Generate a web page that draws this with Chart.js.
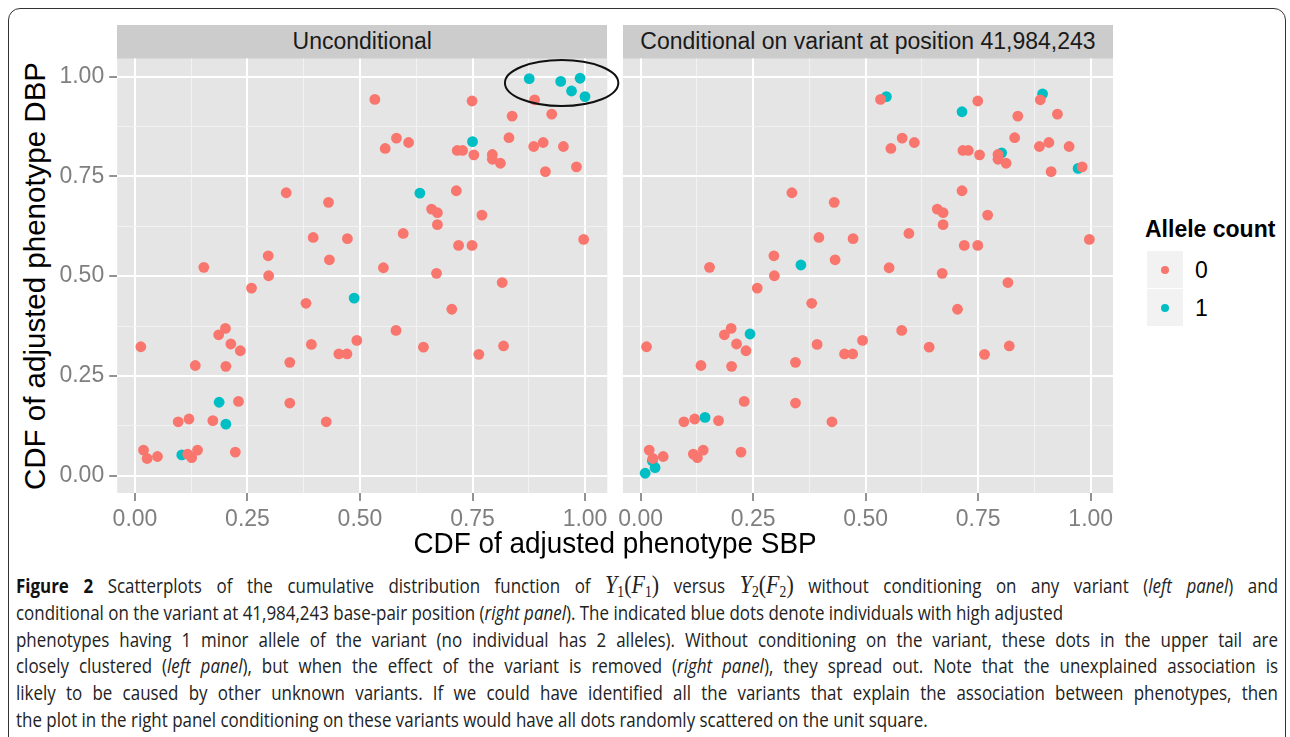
<!DOCTYPE html>
<html>
<head>
<meta charset="utf-8">
<script src="https://cdn.jsdelivr.net/npm/chart.js@4.4.1/dist/chart.umd.min.js"></script>
<style>
html,body{margin:0;padding:0;background:#fff;width:1290px;height:737px;overflow:hidden;font-family:'Liberation Sans',Arial,sans-serif;}
#frame{position:absolute;left:8px;top:8px;width:1278px;height:780px;border:1.5px solid #333;border-radius:12px 12px 0 0;box-sizing:border-box;}
canvas{position:absolute;}
.strip{position:absolute;top:25px;height:33.5px;background:#CCCCCC;color:#1A1A1A;font-size:23px;display:flex;align-items:center;justify-content:center;white-space:nowrap;}
.ctr{position:absolute;white-space:nowrap;line-height:1.1;}
#ytitle{left:35px;top:276px;font-size:29.5px;color:#000;transform:translate(-50%,-50%) rotate(-90deg);}
#xtitle{left:615px;top:542px;font-size:30px;color:#000;transform:translate(-50%,-50%) scaleX(0.93);}
#legTitle{position:absolute;left:1145px;top:216px;font-size:23px;font-weight:bold;color:#000;white-space:nowrap;}
.key{position:absolute;left:1147px;width:36px;height:37px;background:#F2F2F2;}
.kdot{position:absolute;width:8px;height:8px;border-radius:50%;left:14px;top:14.5px;}
.klab{position:absolute;left:1195px;font-size:23px;color:#000;transform:translateY(-50%);line-height:1.1;}
.cap{position:absolute;left:16px;white-space:nowrap;font-family:'Open Sans','Noto Sans',sans-serif;font-size:20px;color:#222;transform-origin:0 50%;line-height:20px;height:20px;}
.cap b{font-weight:700;color:#111;}
.m{font-family:'Liberation Serif','DejaVu Serif',serif;font-size:1.3em;line-height:0;}
.m i{font-style:italic;}
.m sub{font-size:0.62em;vertical-align:-0.25em;font-style:normal;line-height:0;}
</style>
</head>
<body>
<div id="frame"></div>

<div class="strip" style="left:117.2px;width:490.1px;">Unconditional</div>
<div class="strip" style="left:622.9px;width:490.1px;">Conditional on variant at position 41,984,243</div>

<canvas id="c1" width="562" height="488" style="left:60px;top:50px;"></canvas>
<canvas id="c2" width="523" height="488" style="left:600px;top:50px;"></canvas>

<div id="ytitle" class="ctr">CDF of adjusted phenotype DBP</div>
<div id="xtitle" class="ctr">CDF of adjusted phenotype SBP</div>

<div id="legTitle">Allele count</div>
<div class="key" style="top:251px;"><div class="kdot" style="background:#F8766D"></div></div>
<div class="key" style="top:289px;"><div class="kdot" style="background:#00BFC4"></div></div>
<div class="klab" style="top:271px;">0</div>
<div class="klab" style="top:309px;">1</div>

<div class="cap" id="cap1" style="top:576px;"><b>Figure 2</b> Scatterplots of the cumulative distribution function of <span class="m"><i>Y</i><sub>1</sub>(<i>F</i><sub>1</sub>)</span> versus <span class="m"><i>Y</i><sub>2</sub>(<i>F</i><sub>2</sub>)</span> without conditioning on any variant (<i>left panel</i>) and</div>
<div class="cap" id="cap2" style="top:602.8px;">conditional on the variant at 41,984,243 base-pair position (<i>right panel</i>). The indicated blue dots denote individuals with high adjusted</div>
<div class="cap" id="cap3" style="top:629.6px;">phenotypes having 1 minor allele of the variant (no individual has 2 alleles). Without conditioning on the variant, these dots in the upper tail are</div>
<div class="cap" id="cap4" style="top:656.4px;">closely clustered (<i>left panel</i>), but when the effect of the variant is removed (<i>right panel</i>), they spread out. Note that the unexplained association is</div>
<div class="cap" id="cap5" style="top:683.2px;">likely to be caused by other unknown variants. If we could have identified all the variants that explain the association between phenotypes, then</div>
<div class="cap" id="cap6" style="top:710px;">the plot in the right panel conditioning on these variants would have all dots randomly scattered on the unit square.</div>

<script>
// ---------------- DATA ----------------
// Allele count 0 (identical in both panels): CDF of SBP (x) and DBP (y)
const sbpAllele0 = [0.533,0.336,0.430,0.396,0.472,0.296,0.432,0.153,0.749,0.888,
  0.838,0.926,0.581,0.608,0.556,0.716,0.728,0.753,0.794,0.794,
  0.812,0.831,0.886,0.907,0.952,0.912,0.981,0.714,0.659,0.672,
  0.672,0.771,0.596,0.719,0.749,0.997,0.552,0.670,0.816,0.704,
  0.580,0.641,0.764,0.819,0.297,0.259,0.380,0.201,0.186,0.213,
  0.234,0.013,0.134,0.202,0.344,0.392,0.453,0.471,0.493,0.230,
  0.344,0.425,0.096,0.120,0.173,0.019,0.027,0.050,0.117,0.126,
  0.139,0.223];
const dbpAllele0 = [0.943,0.709,0.685,0.597,0.594,0.551,0.541,0.522,0.939,0.942,
  0.901,0.906,0.846,0.835,0.820,0.815,0.815,0.804,0.805,0.793,
  0.783,0.847,0.825,0.835,0.825,0.762,0.774,0.714,0.668,0.659,
  0.629,0.653,0.607,0.577,0.577,0.592,0.521,0.507,0.484,0.417,
  0.364,0.322,0.304,0.325,0.501,0.470,0.432,0.369,0.353,0.330,
  0.313,0.323,0.276,0.274,0.284,0.329,0.305,0.305,0.339,0.186,
  0.182,0.135,0.135,0.142,0.138,0.064,0.043,0.048,0.054,0.045,
  0.064,0.059];
// Allele count 1, unconditional panel
const sbpAllele1Uncond = [0.876,0.946,0.989,0.970,1.000,0.750,0.633,0.487,0.187,0.202,0.104];
const dbpAllele1Uncond = [0.995,0.988,0.996,0.964,0.950,0.837,0.708,0.445,0.184,0.129,0.052];
// Allele count 1, conditional panel
const sbpAllele1Cond = [0.546,0.714,0.893,0.802,0.972,0.356,0.243,0.143,0.026,0.032,0.010];
const dbpAllele1Cond = [0.950,0.912,0.957,0.809,0.770,0.528,0.355,0.146,0.037,0.020,0.006];
// Axis tick labels (major breaks)
const tickLabels = ['0.00','0.25','0.50','0.75','1.00'];
// Highlight ellipse around the upper-tail cluster (data units: centre x, centre y, radius x, radius y)
const highlightEllipse = [0.948, 0.984, 0.126, 0.0576];

// ---------------- CHARTS ----------------
const RED = '#F8766D', TEAL = '#00BFC4';
const X_MIN = -0.0395, X_MAX = 1.0495, Y_MIN = -0.0435, Y_MAX = 1.0455;
Chart.defaults.font.family = "'Liberation Sans', Arial, sans-serif";

const toPts = (xs, ys) => xs.map((v, i) => ({x: v, y: ys[i]}));
const isMajor = v => Math.abs(v * 4 - Math.round(v * 4)) < 1e-6;
const labelFor = v => isMajor(v) ? tickLabels[Math.round(v * 4)] : '';

function gridOpts(drawTicks) {
  return {
    color: c => isMajor(c.tick.value) ? '#FFFFFF' : '#F2F2F2',
    lineWidth: c => isMajor(c.tick.value) ? 2 : 1,
    drawTicks: drawTicks,
    tickLength: 8,
    tickWidth: 1.5,
    tickColor: c => isMajor(c.tick.value) ? '#6E6E6E' : 'rgba(0,0,0,0)'
  };
}

const panelBg = {
  id: 'panelBg',
  beforeDraw(chart) {
    const {ctx, chartArea: a} = chart;
    ctx.save();
    ctx.fillStyle = '#E5E5E5';
    ctx.fillRect(a.left, a.top, a.right - a.left, a.bottom - a.top);
    ctx.restore();
  }
};

const ellipsePlugin = {
  id: 'ellipseMark',
  afterDatasetsDraw(chart, args, opts) {
    if (!opts || !opts.show) return;
    const sx = chart.scales.x, sy = chart.scales.y;
    const [cx, cy, rx, ry] = highlightEllipse;
    const px = sx.getPixelForValue(cx), py = sy.getPixelForValue(cy);
    const prx = sx.getPixelForValue(cx + rx) - px;
    const pry = py - sy.getPixelForValue(cy + ry);
    const ctx = chart.ctx;
    ctx.save();
    ctx.beginPath();
    ctx.ellipse(px, py, prx, pry, 0, 0, Math.PI * 2);
    ctx.strokeStyle = '#111';
    ctx.lineWidth = 2;
    ctx.stroke();
    ctx.restore();
  }
};

function makeChart(id, tealX, tealY, isLeft) {
  return new Chart(document.getElementById(id), {
    type: 'scatter',
    data: {
      datasets: [
        {label: '0', data: toPts(sbpAllele0, dbpAllele0), backgroundColor: RED, borderWidth: 0, pointRadius: 5.4, pointHoverRadius: 5.4},
        {label: '1', data: toPts(tealX, tealY), backgroundColor: TEAL, borderWidth: 0, pointRadius: 5.4, pointHoverRadius: 5.4}
      ]
    },
    options: {
      responsive: false,
      animation: false,
      devicePixelRatio: 1,
      layout: {padding: {top: 8.5, right: isLeft ? 14.7 : 10, left: 0, bottom: 0}},
      plugins: {legend: {display: false}, tooltip: {enabled: false}, ellipseMark: {show: isLeft}},
      scales: {
        x: {
          type: 'linear', min: X_MIN, max: X_MAX,
          afterFit: s => { s.height = 45; s.paddingLeft = 0; s.paddingRight = 0; },
          border: {display: false},
          grid: gridOpts(true),
          ticks: {stepSize: 0.125, includeBounds: false, autoSkip: false, maxRotation: 0, minRotation: 0,
                  padding: 5, color: '#7F7F7F', font: {size: 23}, callback: v => labelFor(v)}
        },
        y: {
          type: 'linear', min: Y_MIN, max: Y_MAX,
          afterFit: s => { s.width = isLeft ? 57.2 : 22.9; s.paddingTop = 0; s.paddingBottom = 0; },
          border: {display: false},
          grid: gridOpts(isLeft),
          ticks: {display: isLeft, stepSize: 0.125, includeBounds: false, autoSkip: false,
                  padding: 5, color: '#7F7F7F', font: {size: 23}, callback: v => labelFor(v)}
        }
      }
    },
    plugins: [panelBg, ellipsePlugin]
  });
}

makeChart('c1', sbpAllele1Uncond, dbpAllele1Uncond, true);
makeChart('c2', sbpAllele1Cond, dbpAllele1Cond, false);

// ---------------- CAPTION LAYOUT ----------------
(function () {
  const ids = ['cap1','cap2','cap3','cap4','cap5','cap6'];
  const els = ids.map(i => document.getElementById(i));
  const widths = els.map(e => e.getBoundingClientRect().width);
  const justified = [0, 2, 3, 4];
  const maxW = Math.max(...justified.map(i => widths[i]));
  // compress so the ragged second line ends where it does in the figure,
  // but never so much that a justified line would overflow
  const s = Math.min(1047 / widths[1], 1262 / maxW);
  const target = 1262 / s;
  els.forEach((e, i) => {
    if (justified.includes(i)) {
      const spaces = (e.textContent.match(/ /g) || []).length;
      const extra = target - widths[i];
      e.style.wordSpacing = (extra / spaces) + 'px';
    }
    e.style.transform = 'scaleX(' + s + ')';
  });
})();
</script>
</body>
</html>
